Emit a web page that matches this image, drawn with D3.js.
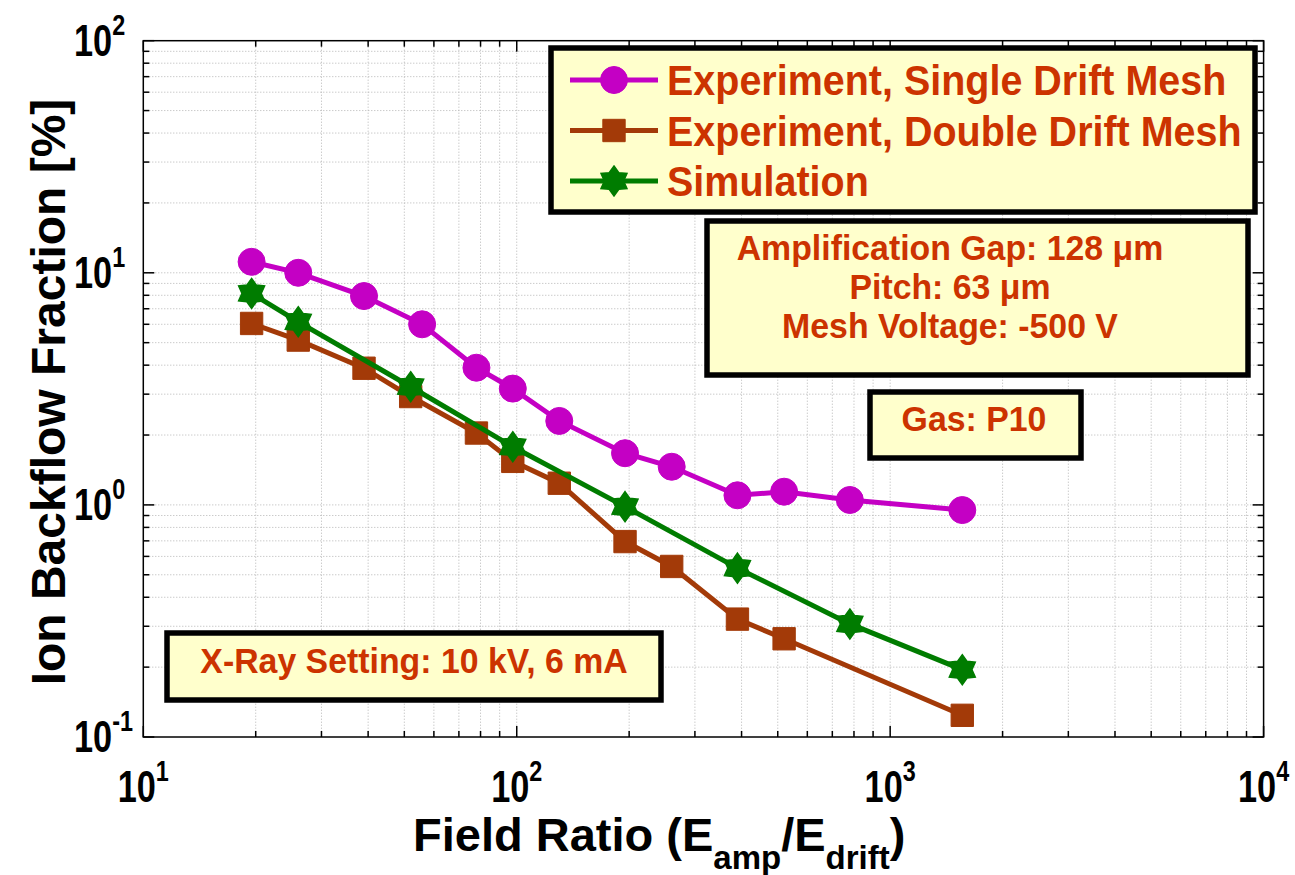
<!DOCTYPE html>
<html>
<head>
<meta charset="utf-8">
<script src="https://cdn.jsdelivr.net/npm/d3@7"></script>
<style>
  body { margin: 0; background: #fff; }
  svg { display: block; }
  text { font-family: "Liberation Sans", Arial, Helvetica, sans-serif; font-weight: bold; }
</style>
</head>
<body>
<svg id="chart" width="1295" height="875"></svg>
<script>
// field ratio E_amp/E_drift and ion backflow fraction [%]
const fieldSingle = [19.5, 26, 39, 55.8, 78, 97.6, 130, 195, 260, 390, 520, 780, 1560];
const ibfSingle   = [11.15, 10.0, 7.94, 6.0, 3.9, 3.17, 2.3, 1.67, 1.46, 1.1, 1.14, 1.05, 0.95];

const fieldDouble = [19.5, 26, 39, 52, 78, 97.6, 130, 195, 260, 390, 520, 1560];
const ibfDouble   = [6.05, 5.13, 3.88, 2.93, 2.04, 1.54, 1.24, 0.695, 0.543, 0.322, 0.265, 0.124];

const fieldSim = [19.5, 26, 52, 97.6, 195, 390, 780, 1560];
const ibfSim   = [8.15, 6.15, 3.23, 1.78, 0.983, 0.534, 0.307, 0.195];

const seriesNames = ["Experiment, Single Drift Mesh", "Experiment, Double Drift Mesh", "Simulation"];
const xDecades = [1, 2, 3, 4];      // 10^1 .. 10^4
const yDecades = [-1, 0, 1, 2];     // 10^-1 .. 10^2
const infoLines = ["Amplification Gap: 128 \u03bcm", "Pitch: 63 \u03bcm", "Mesh Voltage: -500 V"];
const gasLabel = "Gas: P10";
const xrayLabel = "X-Ray Setting: 10 kV, 6 mA";

const svg = d3.select("#chart");
const pLeft = 143.3, pRight = 1263.6, pTop = 40.7, pBottom = 737;

const x = d3.scaleLog().domain([10, 1e4]).range([pLeft, pRight]);
const y = d3.scaleLog().domain([0.1, 100]).range([pBottom, pTop]);

const textColor = "#cc3300";
const boxFill = "#ffffcc";

// every decade tick 1..9
function logTicks(lo, hi) {
  const out = [];
  for (let e = lo; e < hi; e++)
    for (let m = 1; m < 10; m++) out.push({ v: m * Math.pow(10, e), major: m === 1 });
  out.push({ v: Math.pow(10, hi), major: true });
  return out;
}
const xt = logTicks(1, 4), yt = logTicks(-1, 2);

// grid (dotted)
const grid = svg.append("g").attr("stroke", "#b4b4b4").attr("stroke-width", 1).attr("stroke-dasharray", "1,2");
grid.selectAll(".gx").data(xt.filter(d => d.v > 10 && d.v < 1e4)).enter().append("line")
  .attr("x1", d => x(d.v)).attr("x2", d => x(d.v)).attr("y1", pTop).attr("y2", pBottom);
grid.selectAll(".gy").data(yt.filter(d => d.v > 0.1 && d.v < 100)).enter().append("line")
  .attr("y1", d => y(d.v)).attr("y2", d => y(d.v)).attr("x1", pLeft).attr("x2", pRight);

// tick marks on all four sides
const ticks = svg.append("g").attr("stroke", "#000").attr("stroke-width", 1.5);
xt.forEach(d => {
  const len = d.major ? 11 : 6;
  ticks.append("line").attr("x1", x(d.v)).attr("x2", x(d.v)).attr("y1", pBottom).attr("y2", pBottom - len);
  ticks.append("line").attr("x1", x(d.v)).attr("x2", x(d.v)).attr("y1", pTop).attr("y2", pTop + len);
});
yt.forEach(d => {
  const len = d.major ? 11 : 6;
  ticks.append("line").attr("y1", y(d.v)).attr("y2", y(d.v)).attr("x1", pLeft).attr("x2", pLeft + len);
  ticks.append("line").attr("y1", y(d.v)).attr("y2", y(d.v)).attr("x1", pRight).attr("x2", pRight - len);
});

svg.append("rect").attr("x", pLeft).attr("y", pTop).attr("width", pRight - pLeft).attr("height", pBottom - pTop)
  .attr("fill", "none").attr("stroke", "#000").attr("stroke-width", 1.5);

// tick labels, narrow style
function powerLabel(g, e, anchor) {
  const t = g.append("text").attr("text-anchor", anchor).attr("font-size", 44).attr("fill", "#000");
  t.append("tspan").text("10");
  t.append("tspan").attr("font-size", 30).attr("dy", -21).text(e);
}
xDecades.forEach(e => {
  const g = svg.append("g").attr("transform", `translate(${x(Math.pow(10, e))},802) scale(0.78,1)`);
  powerLabel(g, e, "middle");
});
yDecades.forEach(e => {
  const g = svg.append("g").attr("transform", `translate(74,${y(Math.pow(10, e)) + 15}) scale(0.78,1)`);
  powerLabel(g, e, "start");
});

// axis titles
svg.append("text").attr("transform", "translate(65,392) rotate(-90)").attr("text-anchor", "middle")
  .attr("font-size", 48).attr("fill", "#000").text("Ion Backflow Fraction [%]");

const xTitle = svg.append("text").attr("x", 413).attr("y", 851).attr("font-size", 47).attr("fill", "#000");
xTitle.append("tspan").text("Field Ratio (E");
xTitle.append("tspan").attr("font-size", 33).attr("dy", 18).text("amp");
xTitle.append("tspan").attr("dy", -18).text("/E");
xTitle.append("tspan").attr("font-size", 33).attr("dy", 18).text("drift");
xTitle.append("tspan").attr("dy", -18).text(")");

// markers
function hexagram(R) {
  const pts = d3.range(12).map(k => {
    const a = k * Math.PI / 6 - Math.PI / 2, r = k % 2 ? R * 0.64 : R;
    return [r * Math.cos(a), r * Math.sin(a)];
  });
  return d3.line().curve(d3.curveLinearClosed)(pts);
}
const markers = {
  circle: g => g.append("circle").attr("r", 13.5),
  square: g => g.append("path").attr("d", d3.symbol(d3.symbolSquare, 500)()).attr("stroke-linejoin", "round"),
  star: g => g.append("path").attr("d", hexagram(15)).attr("stroke-width", 1.5)
};

const series = [
  { name: seriesNames[0], xs: fieldSingle, ys: ibfSingle, color: "#c400c4", marker: "circle" },
  { name: seriesNames[1], xs: fieldDouble, ys: ibfDouble, color: "#a33a08", marker: "square" },
  { name: seriesNames[2], xs: fieldSim, ys: ibfSim, color: "#007c00", marker: "star" }
];

const line = d3.line().x(d => x(d[0])).y(d => y(d[1]));
series.forEach(s => {
  const pts = s.xs.map((v, i) => [v, s.ys[i]]);
  const g = svg.append("g");
  g.append("path").attr("d", line(pts)).attr("fill", "none").attr("stroke", s.color).attr("stroke-width", 5);
  pts.forEach(p => {
    const m = g.append("g").attr("transform", `translate(${x(p[0])},${y(p[1])})`)
      .attr("fill", s.color).attr("stroke", s.color);
    markers[s.marker](m);
  });
});

// boxes
function box(x0, y0, w, h) {
  svg.append("rect").attr("x", x0).attr("y", y0).attr("width", w).attr("height", h)
    .attr("fill", boxFill).attr("stroke", "#000").attr("stroke-width", 5.5);
}
function boxText(tx, ty, size, str, anchor) {
  svg.append("text").attr("transform", `translate(${tx},${ty}) scale(0.94,1)`)
    .attr("text-anchor", anchor).attr("font-size", size).attr("fill", textColor).text(str);
}

// legend
box(551, 48, 704, 164);
series.forEach((s, i) => {
  const cy = 80 + i * 50.5;
  svg.append("line").attr("x1", 570).attr("x2", 658).attr("y1", cy).attr("y2", cy)
    .attr("stroke", s.color).attr("stroke-width", 5);
  const m = svg.append("g").attr("transform", `translate(614,${cy})`).attr("fill", s.color).attr("stroke", s.color);
  markers[s.marker](m);
  boxText(667, cy + 15, 42, s.name, "start");
});

// setup annotation
box(707, 221, 541, 154);
infoLines.forEach((t, i) => boxText(950, 260 + i * 39, 36, t, "middle"));

box(870, 392, 211, 66);
boxText(974, 431, 36, gasLabel, "middle");

box(167, 633, 494, 67);
boxText(414, 673, 36, xrayLabel, "middle");
</script>
</body>
</html>
